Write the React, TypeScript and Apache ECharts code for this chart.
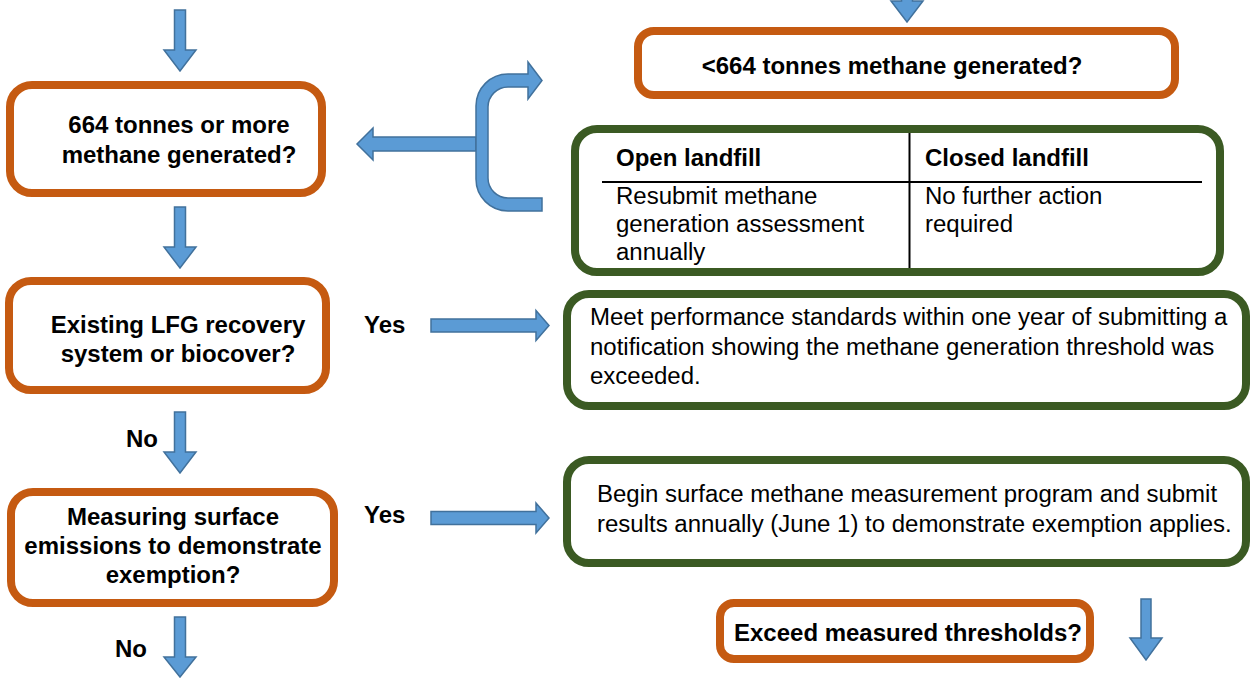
import React, { useEffect, useRef } from "react";
import * as echarts from "echarts";

// ---- content ----
const decisionQuestions: string[][] = [
  ["664 tonnes or more", "methane generated?"],
  ["Existing LFG recovery", "system or biocover?"],
  ["Measuring surface", "emissions to demonstrate", "exemption?"],
];
const thresholdQuestion = "<664 tonnes methane generated?";
const exceedQuestion = "Exceed measured thresholds?";
const tableHeaders = ["Open landfill", "Closed landfill"];
const tableCells: string[][] = [
  ["Resubmit methane", "generation assessment", "annually"],
  ["No further action", "required"],
];
const actionTexts: string[][] = [
  [
    "Meet performance standards within one year of submitting a",
    "notification showing the methane generation threshold was",
    "exceeded.",
  ],
  [
    "Begin surface methane measurement program and submit",
    "results annually (June 1) to demonstrate exemption applies.",
  ],
];
const yesLabel = "Yes";
const noLabel = "No";

// ---- styles ----
const ORANGE = "#C55A11";
const GREEN = "#3B5A23";
const ARROW_FILL = "#5B9BD5";
const ARROW_STROKE = "#41719C";
const FONT = "'Liberation Sans', Arial, Helvetica, sans-serif";
const FS = 24;
const SY = 0.96;

const bracketPath =
  "M528 74 L528 62 L542 80.5 L528 99 L528 87 L508 87 " +
  "C497 87 488 96 488 107 L488 178 C488 189 497 198 508 198 " +
  "L542 198 L542 211 L508 211 C490.3 211 476 196.7 476 179 " +
  "L476 106 C476 88.3 490.3 74 508 74 Z";

echarts.graphic.registerShape(
  "flowBracket",
  echarts.graphic.extendPath(bracketPath, {}) as any
);

function box(x0: number, y0: number, x1: number, y1: number, color: string, r: number, lw = 8) {
  return {
    type: "rect",
    shape: { x: x0 + lw / 2, y: y0 + lw / 2, width: x1 - x0 - lw, height: y1 - y0 - lw, r },
    style: { fill: "#fff", stroke: color, lineWidth: lw },
  };
}

function downArrow(cx: number, top: number, headTop: number, tip: number, sw = 11, hw = 32) {
  return {
    type: "polygon",
    shape: {
      points: [
        [cx - sw / 2, top],
        [cx + sw / 2, top],
        [cx + sw / 2, headTop],
        [cx + hw / 2, headTop],
        [cx, tip],
        [cx - hw / 2, headTop],
        [cx - sw / 2, headTop],
      ],
    },
    style: { fill: ARROW_FILL, stroke: ARROW_STROKE, lineWidth: 1.5 },
  };
}

function hArrow(tail: number, headBase: number, tip: number, cy: number, sh = 13, hh = 30) {
  return {
    type: "polygon",
    shape: {
      points: [
        [tail, cy - sh / 2],
        [headBase, cy - sh / 2],
        [headBase, cy - hh / 2],
        [tip, cy],
        [headBase, cy + hh / 2],
        [headBase, cy + sh / 2],
        [tail, cy + sh / 2],
      ],
    },
    style: { fill: ARROW_FILL, stroke: ARROW_STROKE, lineWidth: 1.5 },
  };
}

function txt(x: number, y: number, s: string, bold: boolean, align = "left") {
  return {
    type: "text",
    x,
    y: y - 0.7,
    scaleY: SY,
    style: {
      text: s,
      fill: "#000",
      font: `${bold ? "bold " : ""}${FS}px ${FONT}`,
      align,
      textAlign: align,
      verticalAlign: "middle",
      textVerticalAlign: "middle",
    },
  };
}

function lines(x: number, y0: number, gap: number, arr: string[], bold: boolean, align = "left") {
  return arr.map((s, i) => txt(x, y0 + i * gap, s, bold, align));
}

export default function App() {
  const ref = useRef<HTMLDivElement>(null);
  useEffect(() => {
    if (!ref.current) return;
    const chart = echarts.init(ref.current, undefined, { renderer: "svg" });
    const elements: any[] = [
      // left column
      downArrow(180, 10, 50, 71),
      box(6, 81, 326, 197, ORANGE, 22),
      ...lines(179, 126, 30, decisionQuestions[0], true, "center"),
      downArrow(180, 207, 247, 268),
      box(5, 277, 330, 394, ORANGE, 22),
      ...lines(178, 326, 29, decisionQuestions[1], true, "center"),
      txt(364, 326, yesLabel, true),
      hArrow(431, 536, 549, 325.5),
      txt(126, 440, noLabel, true),
      downArrow(180, 412, 452, 473),
      box(7, 488, 338, 607, ORANGE, 22),
      ...lines(173, 518, 29, decisionQuestions[2], true, "center"),
      txt(364, 516, yesLabel, true),
      hArrow(431, 536, 549, 518),
      txt(115, 650, noLabel, true),
      downArrow(180, 617, 657, 677),
      // bracket and left arrow
      hArrow(476, 373, 357, 144, 14, 32),
      {
        type: "flowBracket",
        x: 0,
        y: 0,
        style: { fill: ARROW_FILL, stroke: ARROW_STROKE, lineWidth: 1.5 },
      },
      // right column
      downArrow(907, -20, 1, 22),
      box(634, 27, 1179, 99, ORANGE, 16),
      txt(892, 67, thresholdQuestion, true, "center"),
      box(571, 125, 1224, 276, GREEN, 22),
      { type: "line", shape: { x1: 909.5, y1: 133, x2: 909.5, y2: 268 }, style: { stroke: "#000", lineWidth: 2 } },
      { type: "line", shape: { x1: 602, y1: 182, x2: 1202, y2: 182 }, style: { stroke: "#000", lineWidth: 2 } },
      txt(616, 159, tableHeaders[0], true),
      txt(925, 159, tableHeaders[1], true),
      ...lines(616, 197, 28, tableCells[0], false),
      ...lines(925, 197, 28, tableCells[1], false),
      box(563, 290, 1250, 410, GREEN, 22),
      ...lines(590, 318, 29.5, actionTexts[0], false),
      box(563, 456, 1250, 567, GREEN, 22),
      ...lines(597, 495, 30, actionTexts[1], false),
      box(716, 599, 1094, 663, ORANGE, 14),
      txt(908, 634, exceedQuestion, true, "center"),
      downArrow(1146, 599, 638, 660, 10, 32),
    ];
    chart.setOption({ animation: false, graphic: { elements } });
    return () => chart.dispose();
  }, []);
  return (
    <div
      ref={ref}
      style={{ position: "fixed", left: 0, top: 0, width: 1251, height: 679, background: "#fff" }}
    />
  );
}
